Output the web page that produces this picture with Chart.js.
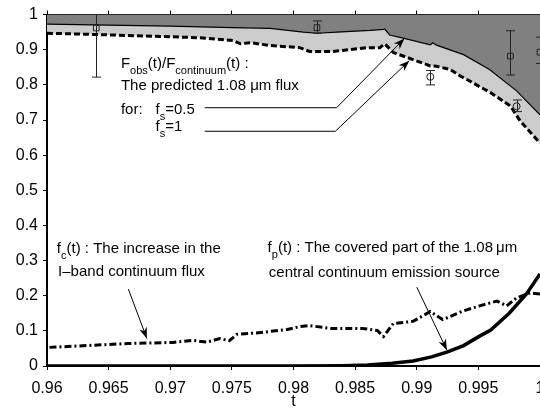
<!DOCTYPE html>
<html>
<head>
<meta charset="utf-8">
<script src="https://cdn.jsdelivr.net/npm/chart.js@4.4.1/dist/chart.umd.min.js"></script>
<style>
  html, body { margin: 0; padding: 0; background: #fff; overflow: hidden; width: 540px; height: 411px; }
  canvas { display: block; }
</style>
</head>
<body>
<canvas id="chart" width="580" height="411"></canvas>
<script>
//tick values
const xTicks = [0.96, 0.965, 0.97, 0.975, 0.98, 0.985, 0.99, 0.995, 1];
const yTicks = [0, 0.1, 0.2, 0.3, 0.4, 0.5, 0.6, 0.7, 0.8, 0.9, 1];

//predicted flux, fs=0.5 (upper edge of light band)
const tHalf = [0.96, 0.965, 0.97, 0.975, 0.9781, 0.9808, 0.9819, 0.9835, 0.9862, 0.9873, 0.9874, 0.9878, 0.9889, 0.9911, 0.9913, 0.9916, 0.9938, 0.9959, 0.9981, 1.0];
const fHalf = [0.973, 0.970, 0.967, 0.963, 0.961, 0.950, 0.947, 0.950, 0.955, 0.958, 0.959, 0.942, 0.933, 0.914, 0.920, 0.913, 0.886, 0.844, 0.783, 0.715];

//predicted flux, fs=1 (dashed)
const tOne = [0.96, 0.9643, 0.97, 0.9724, 0.9751, 0.9757, 0.9765, 0.9781, 0.9805, 0.9813, 0.9832, 0.986, 0.987, 0.9874, 0.9881, 0.9897, 0.9911, 0.9916, 0.9927, 0.9935, 0.9943, 0.9951, 0.9959, 0.9976, 0.9984, 1.0];
const fOne = [0.947, 0.943, 0.937, 0.934, 0.926, 0.917, 0.920, 0.912, 0.906, 0.895, 0.895, 0.906, 0.906, 0.917, 0.892, 0.872, 0.854, 0.853, 0.844, 0.826, 0.811, 0.795, 0.780, 0.740, 0.697, 0.634];

//fc(t) continuum increase
const tCont = [0.9602, 0.9666, 0.9702, 0.9718, 0.973, 0.974, 0.9748, 0.9754, 0.977, 0.9795, 0.9805, 0.9813, 0.983, 0.9856, 0.9868, 0.9873, 0.9881, 0.9897, 0.9911, 0.9921, 0.9938, 0.9951, 0.9965, 0.9973, 0.9981, 0.9992, 1.0];
const fCont = [0.053, 0.064, 0.067, 0.073, 0.068, 0.078, 0.072, 0.090, 0.094, 0.104, 0.112, 0.115, 0.107, 0.107, 0.101, 0.084, 0.121, 0.127, 0.155, 0.132, 0.157, 0.171, 0.185, 0.171, 0.194, 0.208, 0.205];

//fp(t) covered part
const tCover = [0.96, 0.98, 0.984, 0.986, 0.988, 0.9897, 0.9912, 0.9925, 0.9938, 0.9951, 0.996, 0.9975, 0.9989, 1.0];
const fCover = [0, 0, 0.001, 0.003, 0.008, 0.014, 0.026, 0.040, 0.058, 0.085, 0.102, 0.150, 0.205, 0.262];

//observed points, square markers
const tSq = [0.964, 0.9819, 0.9976, 1.0];
const vSq = [0.962, 0.963, 0.882, 0.893];
const loSq = [0.822, 0.947, 0.828, 0.861];
const hiSq = [1.102, 0.982, 0.954, 0.936];

//observed points, circle markers
const tCi = [0.9911, 0.9981];
const vCi = [0.823, 0.739];
const loCi = [0.800, 0.724];
const hiCi = [0.841, 0.757];

const pts = (xs, ys) => xs.map((x, i) => ({ x: x, y: ys[i] }));
const FONT = "'Liberation Sans', Arial, Helvetica, sans-serif";

//texts with subscripts
const notes = [
  { t: 0.9660, v: 0.8485, parts: [["F", 0], ["obs", 1], ["(t)/F", 0], ["continuum", 1], ["(t) :", 0]] },
  { t: 0.9660, v: 0.786, parts: [["The predicted 1.08 \u03bcm flux", 0]] },
  { t: 0.9660, v: 0.718, parts: [["for:", 0]] },
  { t: 0.9688, v: 0.718, parts: [["f", 0], ["s", 1], ["=0.5", 0]] },
  { t: 0.9688, v: 0.668, parts: [["f", 0], ["s", 1], ["=1", 0]] },
  { t: 0.9608, v: 0.3226, parts: [["f", 0], ["c", 1], ["(t) : The increase in the", 0]] },
  { t: 0.9609, v: 0.2553, parts: [["I\u2013band continuum flux", 0]] },
  { t: 0.9779, v: 0.325, parts: [["f", 0], ["p", 1], ["(t) : The covered part of the 1.08\u2009\u03bcm", 0]] },
  { t: 0.9780, v: 0.2525, parts: [["central continuum emission source", 0]] },
];
//pointer lines (last point gets arrow head)
const pointers = [
  [[0.9728, 0.735], [0.9835, 0.735], [0.9890, 0.932]],
  [[0.9728, 0.668], [0.9834, 0.668], [0.9894, 0.869]],
  [[0.9666, 0.2188], [0.9681, 0.0785]],
  [[0.9900, 0.2244], [0.99245, 0.0449]],
];

function drawParts(ctx, x, y, parts) {
  let cx = x;
  parts.forEach(([txt, sub]) => {
    ctx.font = (sub ? "11px " : "15px ") + FONT;
    ctx.fillText(txt, cx, sub ? y + 6 : y);
    cx += ctx.measureText(txt).width;
  });
}

function arrowHead(ctx, x0, y0, x1, y1) {
  const a = Math.atan2(y1 - y0, x1 - x0);
  const len = 11, w = 4;
  ctx.save();
  ctx.translate(x1, y1);
  ctx.rotate(a);
  ctx.beginPath();
  ctx.moveTo(0, 0);
  ctx.lineTo(-len, -w);
  ctx.lineTo(-len * 0.7, 0);
  ctx.lineTo(-len, w);
  ctx.closePath();
  ctx.fill();
  ctx.restore();
}

//error bars
const errorBars = {
  id: "errorBars",
  afterDatasetsDraw(chart) {
    const { ctx, chartArea, scales } = chart;
    const x = scales.x, y = scales.y;
    ctx.save();
    ctx.beginPath();
    ctx.rect(chartArea.left, chartArea.top, chartArea.right - chartArea.left, chartArea.bottom - chartArea.top);
    ctx.clip();
    ctx.strokeStyle = "#222";
    ctx.lineWidth = 1;
    const draw = (ts, lo, hi) => {
      ts.forEach((t, i) => {
        const px = Math.round(x.getPixelForValue(t)) + 0.5;
        const y0 = y.getPixelForValue(lo[i]), y1 = y.getPixelForValue(hi[i]);
        ctx.beginPath();
        ctx.moveTo(px, y0); ctx.lineTo(px, y1);
        ctx.moveTo(px - 4.5, y0); ctx.lineTo(px + 4.5, y0);
        ctx.moveTo(px - 4.5, y1); ctx.lineTo(px + 4.5, y1);
        ctx.stroke();
      });
    };
    draw(tSq, loSq, hiSq);
    draw(tCi, loCi, hiCi);
    ctx.restore();
  },
};

//annotations
const annotations = {
  id: "annotations",
  afterDraw(chart) {
    const { ctx, scales } = chart;
    const x = scales.x, y = scales.y;
    ctx.save();
    ctx.fillStyle = "#000";
    ctx.textBaseline = "alphabetic";
    ctx.textAlign = "left";
    notes.forEach((n) => drawParts(ctx, x.getPixelForValue(n.t), y.getPixelForValue(n.v), n.parts));
    ctx.strokeStyle = "#000";
    ctx.lineWidth = 1;
    pointers.forEach((p) => {
      const xy = p.map(([t, v]) => [x.getPixelForValue(t), y.getPixelForValue(v)]);
      ctx.beginPath();
      xy.forEach(([px, py], i) => (i ? ctx.lineTo(px, py) : ctx.moveTo(px, py)));
      ctx.stroke();
      const a = xy[xy.length - 2], b = xy[xy.length - 1];
      arrowHead(ctx, a[0], a[1], b[0], b[1]);
    });
    ctx.restore();
  },
};

Chart.defaults.font.family = FONT;
Chart.defaults.color = "#000";

const axisGrid = { drawOnChartArea: false, drawTicks: true, tickLength: 4, color: "#000", lineWidth: 1 };

new Chart(document.getElementById("chart"), {
  type: "line",
  data: {
    datasets: [
      {
        label: "fs=1",
        data: pts(tOne, fOne),
        borderColor: "#000",
        borderWidth: 3,
        borderDash: [6, 3],
        backgroundColor: "#cccccc",
        fill: "end",
        pointRadius: 0,
        order: 5,
      },
      {
        label: "fs=0.5",
        data: pts(tHalf, fHalf),
        borderColor: "#000",
        borderWidth: 1.2,
        backgroundColor: "#808080",
        fill: "end",
        pointRadius: 0,
        order: 4,
      },
      {
        label: "fc",
        data: pts(tCont, fCont),
        borderColor: "#000",
        borderWidth: 3,
        borderDash: [7, 3, 2, 3],
        fill: false,
        pointRadius: 0,
        order: 3,
      },
      {
        label: "fp",
        data: pts(tCover, fCover),
        borderColor: "#000",
        borderWidth: 3.5,
        fill: false,
        pointRadius: 0,
        order: 2,
      },
      {
        label: "obs squares",
        data: pts(tSq, vSq),
        showLine: false,
        pointStyle: "rect",
        pointRadius: 4,
        pointBorderWidth: 1,
        pointBorderColor: "#222",
        pointBackgroundColor: "transparent",
        order: 1,
      },
      {
        label: "obs circles",
        data: pts(tCi, vCi),
        showLine: false,
        pointStyle: "circle",
        pointRadius: 3.5,
        pointBorderWidth: 1,
        pointBorderColor: "#222",
        pointBackgroundColor: "transparent",
        order: 1,
      },
    ],
  },
  options: {
    responsive: false,
    animation: false,
    layout: { padding: { left: 0, right: 40, top: 0, bottom: 0 } },
    plugins: {
      legend: { display: false },
      tooltip: { enabled: false },
    },
    scales: {
      x: {
        type: "linear",
        position: "bottom",
        min: 0.96,
        max: 1,
        afterBuildTicks: (s) => { s.ticks = xTicks.map((v) => ({ value: v })); },
        afterFit: (s) => { s.height = 45; },
        ticks: { font: { size: 16 }, padding: 9, maxRotation: 0, callback: (v) => String(v) },
        grid: axisGrid,
        border: { display: true, color: "#000", width: 2 },
        title: { display: true, text: "t", font: { size: 16 }, padding: { top: 0, bottom: 0 } },
      },
      x2: {
        type: "linear",
        position: "top",
        min: 0.96,
        max: 1,
        afterBuildTicks: (s) => { s.ticks = xTicks.map((v) => ({ value: v })); },
        afterFit: (s) => { s.height = 10; },
        ticks: { display: false },
        grid: axisGrid,
        border: { display: true, color: "#000", width: 1 },
      },
      y: {
        type: "linear",
        min: 0,
        max: 1,
        afterBuildTicks: (s) => { s.ticks = yTicks.map((v) => ({ value: v })); },
        afterFit: (s) => { s.width = 47; },
        ticks: { font: { size: 16 }, padding: 5, callback: (v) => String(v) },
        grid: axisGrid,
        border: { display: true, color: "#000", width: 2 },
      },
    },
  },
  plugins: [errorBars, annotations],
});
</script>
</body>
</html>
